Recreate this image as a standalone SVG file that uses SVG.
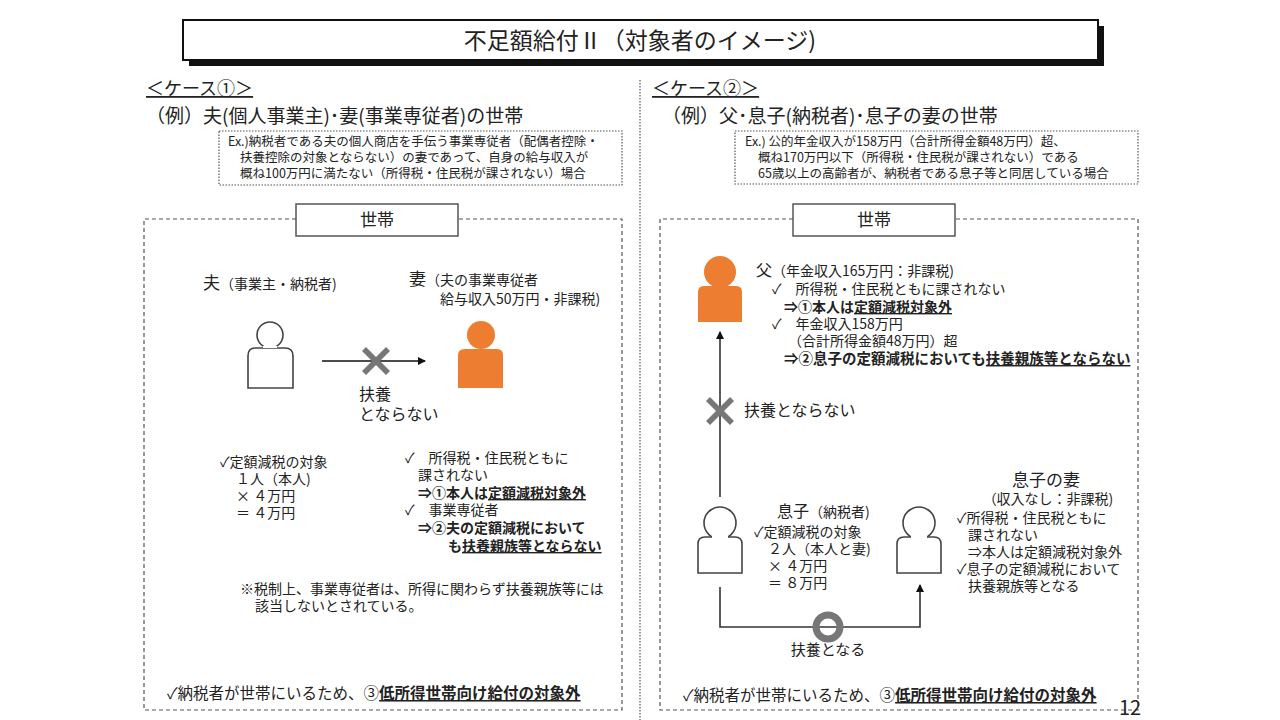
<svg xmlns="http://www.w3.org/2000/svg" width="1280" height="720" viewBox="0 0 1280 720">
<style>
text{font-family:"Noto Sans CJK JP","Noto Sans",sans-serif;fill:#222}
.s{font-size:14px}
.e{font-size:12.5px}
.b{font-weight:bold}
.u{text-decoration:underline}
.dot{fill:none;stroke:#555;stroke-width:1.2;stroke-dasharray:1.5 1.5}
.dash{fill:none;stroke:#555;stroke-width:1.2;stroke-dasharray:4 3}
.lbl{fill:#fff;stroke:#555;stroke-width:1.5}
.po{fill:#fff;stroke:#444;stroke-width:1.6}
.pf{fill:#ED7D31}
.ln{stroke:#333;fill:none}
</style>
<defs>
<marker id="ah" markerWidth="8" markerHeight="8" refX="7" refY="4" orient="auto" markerUnits="userSpaceOnUse"><path d="M0,0 L8,4 L0,8 z" fill="#111"/></marker>
<g id="xm"><path d="M-14,-10 L-10,-14 L0,-4 L10,-14 L14,-10 L4,0 L14,10 L10,14 L0,4 L-10,14 L-14,10 L-4,0 z" fill="#777"/></g>
</defs>
<rect width="1280" height="720" fill="#fff"/>
<g id="title">
<rect x="189" y="26" width="915" height="40" fill="#111"/>
<rect x="183" y="20" width="915" height="40" fill="#fff" stroke="#111" stroke-width="2"/>
<text x="640" y="49" text-anchor="middle" font-size="23">不足額給付Ⅱ（対象者のイメージ)</text>
</g>
<line x1="640" y1="80" x2="640" y2="720" class="dot"/>
<g id="case1-head">
<text x="146" y="95" font-size="18" class="u">＜ケース①＞</text>
<text x="146" y="123" font-size="19">（例）夫(個人事業主)･妻(事業専従者)の世帯</text>
<rect x="219" y="131" width="403" height="54" class="dot"/>
<text x="228" y="146" class="e">Ex.)納税者である夫の個人商店を手伝う事業専従者（配偶者控除・</text>
<text x="240" y="162" class="e">扶養控除の対象とならない）の妻であって、自身の給与収入が</text>
<text x="240" y="178" class="e">概ね100万円に満たない（所得税・住民税が課されない）場合</text>
</g>
<g id="household1">
<path d="M296,219 H144 V710 H622 V219 H458" class="dash"/>
<rect x="296" y="204" width="162" height="32" class="lbl"/>
<text x="377" y="226" text-anchor="middle" font-size="17">世帯</text>
</g>
<g id="husband">
<text x="203" y="289" font-size="17">夫<tspan font-size="14">（事業主・納税者)</tspan></text>
<circle cx="270" cy="335" r="13" class="po"/>
<path d="M255,348 H285 Q293,348 293,356 V388 H248 V356 Q248,348 255,348 z" class="po"/>
<path d="M263,347 H277" stroke="#fff" stroke-width="2"/>
</g>
<g id="wife1">
<text x="409" y="285" font-size="17">妻<tspan font-size="14">（夫の事業専従者</tspan></text>
<text x="440" y="304" class="s">給与収入50万円・非課税)</text>
<circle cx="481" cy="335" r="14" class="pf"/>
<path d="M465,349 H497 Q503,349 503,355 V388 H458 V355 Q458,349 465,349 z" class="pf"/>
</g>
<g id="connectors1">
<line x1="322" y1="361" x2="425" y2="361" stroke="#111" stroke-width="1.5" marker-end="url(#ah)"/>
<use href="#xm" x="376" y="361"/>
<text x="359" y="400" font-size="16">扶養</text>
<text x="359" y="420" font-size="16">とならない</text>
</g>
<g id="notes1">
<text x="220" y="467" class="s">✓定額減税の対象</text>
<text x="236" y="484" class="s">１人（本人)</text>
<text x="236" y="501" class="s">× ４万円</text>
<text x="236" y="518" class="s">＝ ４万円</text>
<text x="405" y="463" class="s">✓　所得税・住民税ともに</text>
<text x="418" y="480" class="s">課されない</text>
<text x="418" y="498" class="s b">⇒①本人は<tspan class="u">定額減税対象外</tspan></text>
<text x="405" y="515" class="s">✓　事業専従者</text>
<text x="418" y="533" class="s b">⇒②夫の定額減税において</text>
<text x="448" y="551" class="s b">も<tspan class="u">扶養親族等とならない</tspan></text>
<text x="240" y="594" class="s">※税制上、事業専従者は、所得に関わらず扶養親族等には</text>
<text x="255" y="611" class="s">該当しないとされている。</text>
<text x="167" y="699" font-size="15.5">✓納税者が世帯にいるため、③<tspan class="b u">低所得世帯向け給付の対象外</tspan></text>
</g>
<g id="case2-head">
<text x="652" y="95" font-size="18" class="u">＜ケース②＞</text>
<text x="662" y="123" font-size="19">（例）父･息子(納税者)･息子の妻の世帯</text>
<rect x="735" y="131" width="403" height="53" class="dot"/>
<text x="745" y="146" class="e">Ex.) 公的年金収入が158万円（合計所得金額48万円）超、</text>
<text x="758" y="162" class="e">概ね170万円以下（所得税・住民税が課されない）である</text>
<text x="758" y="178" class="e">65歳以上の高齢者が、納税者である息子等と同居している場合</text>
</g>
<g id="household2">
<path d="M793,219 H660 V710 H1138 V219 H955" class="dash"/>
<rect x="793" y="204" width="162" height="32" class="lbl"/>
<text x="874" y="226" text-anchor="middle" font-size="17">世帯</text>
</g>
<g id="father">
<circle cx="720" cy="272" r="16" class="pf"/>
<path d="M704,286 H736 Q742,286 742,292 V322 H698 V292 Q698,286 704,286 z" class="pf"/>
<text x="756" y="276" font-size="16">父<tspan font-size="14">（年金収入165万円：非課税)</tspan></text>
<text x="772" y="294" class="s">✓　所得税・住民税ともに課されない</text>
<text x="784" y="312" class="s b">⇒①本人は<tspan class="u">定額減税対象外</tspan></text>
<text x="772" y="329" class="s">✓　年金収入158万円</text>
<text x="788" y="346" class="s">（合計所得金額48万円）超</text>
<text x="784" y="364" font-size="14.5" class="b">⇒②息子の定額減税においても<tspan class="u">扶養親族等とならない</tspan></text>
</g>
<g id="son">
<circle cx="720" cy="523" r="16" class="po"/>
<path d="M705,537 H735 Q742,537 742,544 V573 H698 V544 Q698,537 705,537 z" class="po"/>
<path d="M712,537 H728" stroke="#fff" stroke-width="2"/>
<text x="777" y="517" font-size="16">息子<tspan font-size="14">（納税者)</tspan></text>
<text x="754" y="537" class="s">✓定額減税の対象</text>
<text x="768" y="554" class="s">２人（本人と妻)</text>
<text x="768" y="571" class="s">× ４万円</text>
<text x="768" y="588" class="s">＝ ８万円</text>
</g>
<g id="sonwife">
<circle cx="919" cy="523" r="16" class="po"/>
<path d="M904,537 H934 Q941,537 941,544 V573 H897 V544 Q897,537 904,537 z" class="po"/>
<path d="M911,537 H927" stroke="#fff" stroke-width="2"/>
<text x="1046" y="486" text-anchor="middle" font-size="17">息子の妻</text>
<text x="1048" y="504" text-anchor="middle" class="s">（収入なし：非課税)</text>
<text x="957" y="523" class="s">✓所得税・住民税ともに</text>
<text x="968" y="540" class="s">課されない</text>
<text x="968" y="557" class="s">⇒本人は定額減税対象外</text>
<text x="957" y="574" class="s">✓息子の定額減税において</text>
<text x="968" y="591" class="s">扶養親族等となる</text>
</g>
<g id="connectors2">
<line x1="720" y1="497" x2="720" y2="332" class="ln" stroke-width="1.6" marker-end="url(#ah)"/>
<use href="#xm" x="720" y="411"/>
<text x="744" y="416" font-size="16">扶養とならない</text>
<path d="M720,587 V627 H920 V585" class="ln" stroke-width="1.6" marker-end="url(#ah)"/>
<circle cx="828" cy="627" r="12" fill="none" stroke="#777" stroke-width="7"/>
<text x="828" y="655" text-anchor="middle" font-size="15">扶養となる</text>
<text x="683" y="701" font-size="15.5">✓納税者が世帯にいるため、③<tspan class="b u">低所得世帯向け給付の対象外</tspan></text>
</g>
<text x="1130" y="715" text-anchor="middle" font-size="20" fill="#333">12</text>
</svg>
